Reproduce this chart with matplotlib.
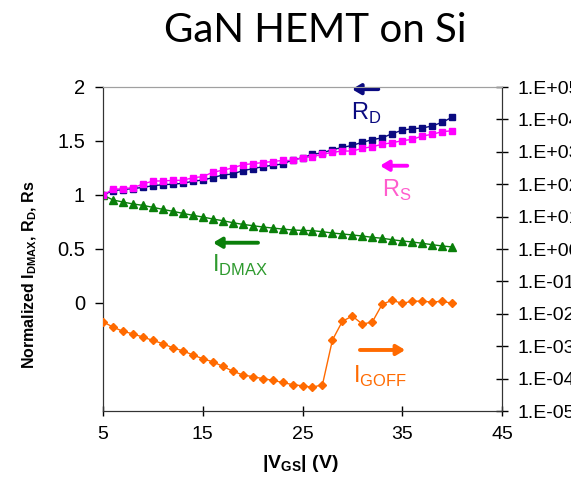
import numpy as np
import matplotlib
matplotlib.use('Agg')
import matplotlib.pyplot as plt
from matplotlib.ticker import FixedLocator, FuncFormatter

plt.rcParams['font.family'] = ['Liberation Sans', 'DejaVu Sans']
plt.rcParams['mathtext.fontset'] = 'custom'
plt.rcParams['mathtext.rm'] = 'Liberation Sans'
plt.rcParams['mathtext.bf'] = 'Liberation Sans:bold'

# |VGS| sweep (V)
vgs = list(range(5, 41))

# normalised drain resistance R_D
r_d = [1.00, 1.04, 1.05, 1.06, 1.07, 1.086, 1.095, 1.10, 1.108, 1.127,
       1.139, 1.16, 1.185, 1.194, 1.225, 1.243, 1.262, 1.275, 1.287, 1.324,
       1.345, 1.377, 1.39, 1.42, 1.44, 1.46, 1.488, 1.512, 1.53, 1.568,
       1.60, 1.614, 1.62, 1.639, 1.673, 1.72]

# normalised source resistance R_S
r_s = [1.00, 1.053, 1.058, 1.068, 1.10, 1.13, 1.13, 1.136, 1.136, 1.16,
       1.17, 1.21, 1.23, 1.25, 1.28, 1.29, 1.30, 1.31, 1.32, 1.32,
       1.345, 1.355, 1.377, 1.395, 1.407, 1.407, 1.432, 1.447, 1.47, 1.484,
       1.503, 1.515, 1.546, 1.562, 1.586, 1.595]

# normalised I_DMAX
i_dmax = [1.00, 0.954, 0.935, 0.917, 0.904, 0.886, 0.867, 0.849, 0.83, 0.812,
          0.796, 0.778, 0.762, 0.744, 0.728, 0.716, 0.704, 0.694, 0.685, 0.676,
          0.672, 0.67, 0.66, 0.648, 0.639, 0.63, 0.62, 0.608, 0.599, 0.586,
          0.574, 0.565, 0.553, 0.54, 0.528, 0.519]

# gate off-state leakage I_GOFF (right axis, log)
i_goff = [5.66e-3, 3.89e-3, 2.88e-3, 2.40e-3, 1.91e-3, 1.51e-3, 1.20e-3, 8.9e-4, 7.2e-4, 5.4e-4,
          4.1e-4, 3.3e-4, 2.4e-4, 1.7e-4, 1.3e-4, 1.15e-4, 1.0e-4, 8.9e-5, 7.6e-5, 6.5e-5,
          6.0e-5, 5.4e-5, 6.5e-5, 1.55e-3, 5.9e-3, 8.5e-3, 4.8e-3, 5.6e-3, 2.0e-2, 2.6e-2,
          2.1e-2, 2.45e-2, 2.45e-2, 2.3e-2, 2.45e-2, 2.1e-2]

x_ticks = [5, 15, 25, 35, 45]
left_ticks = [0, 0.5, 1, 1.5, 2]
right_ticks = [10.0 ** k for k in range(-5, 6)]

NAVY = '#0a0a80'
MAGENTA = '#ff00ff'
GREEN = '#0a7f0a'
ORANGE = '#ff6a00'

fig = plt.figure(figsize=(5.71, 4.79), dpi=100)
ax = fig.add_axes([103 / 571, 68 / 479, 399 / 571, 324 / 479])
ax2 = ax.twinx()

ax.plot(vgs, r_d, color=NAVY, lw=1, marker='s', ms=4.8, zorder=3)
ax.plot(vgs, r_s, color=MAGENTA, lw=1, marker='s', ms=4.8, zorder=4)
ax.plot(vgs, i_dmax, color=GREEN, lw=1, marker='^', ms=6, zorder=3)
ax2.plot(vgs, i_goff, color=ORANGE, lw=1, marker='D', ms=4.3, zorder=3)

ax.set_xlim(5, 45)
ax.set_ylim(-1, 2)
ax2.set_yscale('log')
ax2.set_ylim(1e-5, 1e5)

ax.xaxis.set_major_locator(FixedLocator(x_ticks))
ax.yaxis.set_major_locator(FixedLocator(left_ticks))
ax.set_yticklabels(['0', '0.5', '1', '1.5', '2'])
ax2.yaxis.set_major_locator(FixedLocator(right_ticks))
ax2.yaxis.set_minor_locator(FixedLocator([]))
ax2.yaxis.set_major_formatter(FuncFormatter(lambda v, p: '1.E%+03d' % round(np.log10(v))))

ax.tick_params(axis='x', direction='inout', length=7, width=1, labelsize=14, pad=7)
ax.tick_params(axis='y', direction='out', length=6, width=1, labelsize=14.5, pad=7)
ax2.tick_params(axis='y', direction='inout', length=8, width=1, labelsize=14, pad=7.5)

for a in (ax, ax2):
    for side in ('left', 'right', 'bottom'):
        a.spines[side].set_color('#333333')
    a.spines['top'].set_color('#a0a0a0')

ax.set_ylabel(r'Normalized I$_\mathbf{DMAX}$, R$_\mathbf{D}$, Rs',
              fontsize=11.5, fontweight='bold')
ax.yaxis.set_label_coords(-0.16, 0.42)
ax.set_xlabel(r'|V$_\mathbf{GS}$| (V)', fontsize=14, fontweight='bold')
ax.xaxis.set_label_coords(0.495, -0.13)

# arrows and curve labels
arrow = dict(arrowstyle='-|>,head_length=0.5,head_width=0.3', lw=2.8, shrinkA=0, shrinkB=0)
ax.annotate('', xy=(29.96, 1.98), xytext=(32.6, 1.98), arrowprops=dict(arrow, color=NAVY))
ax.text(29.9, 1.694, r'R$_\mathregular{D}$', color=NAVY, fontsize=17, va='baseline')
ax.annotate('', xy=(32.77, 1.271), xytext=(35.5, 1.271), arrowprops=dict(arrow, color=MAGENTA))
ax.text(33.0, 0.981, r'R$_\mathregular{S}$', color='#ff5ccd', fontsize=17, va='baseline')
ax.annotate('', xy=(16.03, 0.558), xytext=(20.54, 0.558), arrowprops=dict(arrow, color=GREEN))
ax.text(15.9, 0.287, r'I$_\mathregular{DMAX}$', color='#2e9a2e', fontsize=17, va='baseline')
ax.annotate('', xy=(35.3, -0.435), xytext=(30.76, -0.435), arrowprops=dict(arrow, color=ORANGE))
ax.text(30.1, -0.741, r'I$_\mathregular{GOFF}$', color=ORANGE, fontsize=17, va='baseline')

fig.text(315 / 571, 1 - 31 / 479, 'GaN HEMT on Si', fontsize=29, ha='center', va='center',
         family=['Lato', 'DejaVu Sans'])

fig.savefig('out.png', dpi=100)
